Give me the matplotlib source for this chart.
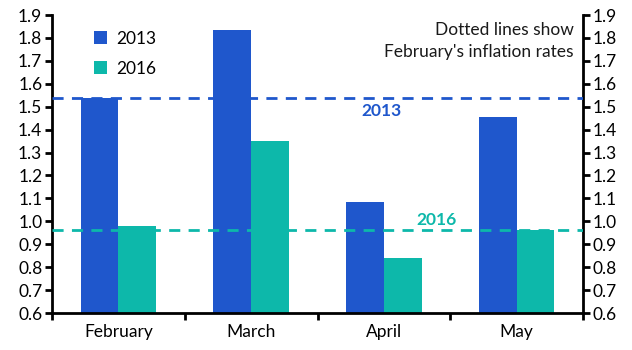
import numpy as np
import matplotlib
matplotlib.use("Agg")
import matplotlib.pyplot as plt

plt.rcParams["font.family"] = ["Lato", "DejaVu Sans"]

MONTHS = ["February", "March", "April", "May"]
CPI_2013 = [1.54, 1.835, 1.085, 1.455]
CPI_2016 = [0.98, 1.35, 0.84, 0.96]
FEB_2013 = 1.54
FEB_2016 = 0.96
YTICKS = np.round(np.arange(0.6, 1.91, 0.1), 1)

BLUE = "#1F57CC"
TEAL = "#0DB8AA"
FS = 12.5

fig = plt.figure(figsize=(6.32, 3.5), dpi=100)
ax = fig.add_axes([0.0823, 0.1057, 0.8402, 0.8513])

x = np.arange(len(MONTHS))
w = 0.285
ax.bar(x - w / 2, CPI_2013, w, bottom=0, color=BLUE, label="2013", zorder=2)
ax.bar(x + w / 2, CPI_2016, w, bottom=0, color=TEAL, label="2016", zorder=2)
ax.axhline(FEB_2013, color=BLUE, lw=2, ls=(0, (4, 3)), zorder=3)
ax.axhline(FEB_2016, color=TEAL, lw=2, ls=(0, (4, 3)), zorder=3)

ax.text(1.98, FEB_2013 - 0.025, "2013", color=BLUE, fontsize=FS,
        fontweight="bold", ha="center", va="top")
ax.text(2.40, FEB_2016 + 0.012, "2016", color=TEAL, fontsize=FS,
        fontweight="bold", ha="center", va="bottom")
ax.text(0.983, 0.975, "Dotted lines show\nFebruary's inflation rates",
        transform=ax.transAxes, ha="right", va="top", fontsize=FS,
        linespacing=1.45, color="#1A1A1A")

ax.set_xlim(-0.5, 3.5)
ax.set_ylim(0.6, 1.9)
ax.set_yticks(YTICKS)
ax.set_yticklabels([f"{v:.1f}" for v in YTICKS])
ax.set_xticks(x)
ax.set_xticklabels(MONTHS, fontsize=FS)
ax.tick_params(axis="x", length=0, pad=8)
ax.set_xticks(np.arange(-0.5, 3.6, 1), minor=True)
ax.tick_params(axis="x", which="minor", length=5, width=2, direction="out")

ax.tick_params(axis="y", direction="out", length=5, width=2, left=True,
               right=True, labelleft=True, labelright=True, labelsize=FS,
               pad=2)
for side in ["left", "right", "bottom"]:
    ax.spines[side].set_linewidth(2)
ax.spines["top"].set_visible(False)

ax.legend(loc="upper left", bbox_to_anchor=(0.05, 1.0), frameon=False,
          fontsize=FS, handlelength=0.75, handleheight=0.75, labelspacing=0.8,
          handletextpad=0.5)

fig.savefig("out.png", dpi=100)
